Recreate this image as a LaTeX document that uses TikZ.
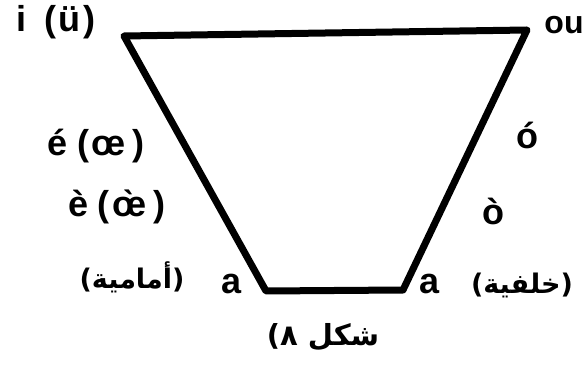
\documentclass[tikz,border=0pt]{standalone}
\usepackage{fontspec}
\setmainfont{Liberation Sans}
\newfontfamily\arabicfont[Script=Arabic]{DejaVu Sans}
\TeXXeTstate=1
\begin{document}
\begin{tikzpicture}[x=1pt,y=-1pt,
  lbl/.style={inner sep=0pt, font=\fontsize{36}{38}\selectfont\bfseries},
  ar/.style={inner sep=0pt, font=\fontsize{27}{29}\selectfont\arabicfont\bfseries},
  edge/.style={line width=7pt, line join=round, line cap=round}]
\useasboundingbox (0,0) rectangle (587,371);
\coordinate (tl) at (124,36);
\coordinate (tr) at (527,30);
\coordinate (br) at (403,290);
\coordinate (bl) at (266,291);
\draw[edge] (tl) -- (tr) -- (br) -- (bl) -- cycle;
\node[lbl] (i) at (56,22) {i\hspace{18pt}(\hspace{3pt}ü\hspace{3pt})};
\node[lbl, font=\fontsize{32}{34}\selectfont\bfseries] (ou) at (564,25) {ou};
\node[lbl] (e1) at (96,146) {é\hspace{10pt}(\hspace{2pt}œ\hspace{8pt})};
\node[lbl] (e2) at (117,207) {è\hspace{10pt}(\hspace{2pt}\`{\oe}\hspace{8pt})};
\node[ar] (front) at (132,277) {\beginR(أمامية)\endR};
\node[lbl] (a1) at (232,284) {a};
\node[lbl] (a2) at (430,284) {a};
\node[ar] (back) at (522,285) {\beginR(خلفية)\endR};
\node[lbl] (o1) at (527,135) {ó};
\node[lbl] (o2) at (493,211) {ò};
\node[ar, font=\fontsize{29}{31}\selectfont\arabicfont\bfseries] (cap) at (323,337) {\beginR شكل ٨)\endR};
\end{tikzpicture}
\end{document}
